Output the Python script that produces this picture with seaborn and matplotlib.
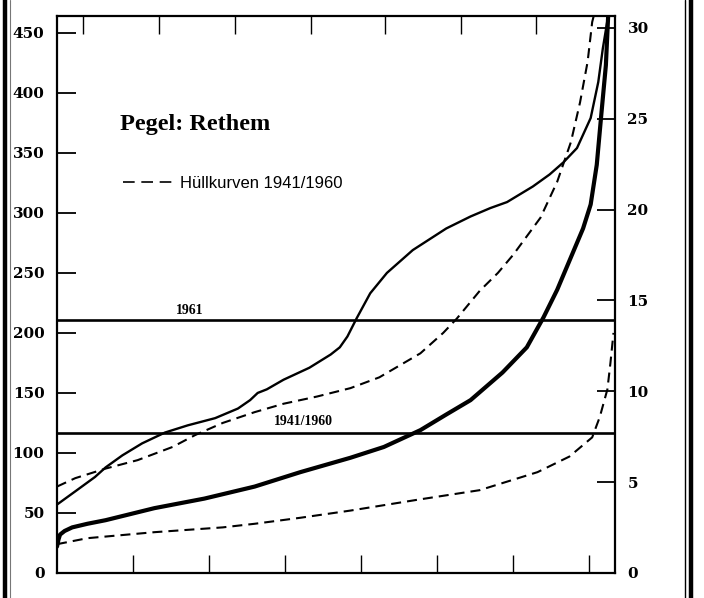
import numpy as np
import pandas as pd
import matplotlib
matplotlib.use("Agg")
import matplotlib.pyplot as plt
from matplotlib.lines import Line2D
import seaborn as sns

# ---------------- data ----------------
curve_1961_days = [0, 12, 25, 32, 43, 56, 71, 86, 104, 119, 127, 132, 138, 149, 166, 180,
                   186, 191, 197, 206, 217, 234, 256, 272, 285, 296, 313, 324, 333, 342,
                   351, 356, 359, 362.5]
curve_1961_vals = [57, 68, 80, 88, 98, 108, 117, 123, 129, 137, 144, 150, 153, 161, 171, 182,
                   188, 197, 212, 233, 250, 269, 287, 297, 304, 309, 322, 332, 342, 354,
                   379, 409, 437, 464]

curve_mean_days = [0, 1, 2, 5, 10, 20, 32, 64, 97, 130, 160, 193, 215, 239, 256, 272, 293,
                   309, 320, 329, 335, 346, 351, 355, 358, 361, 362.5]
curve_mean_vals = [22, 28, 32, 35, 38, 41, 44, 54, 62, 72, 84, 96, 105, 119, 132, 144, 167,
                   188, 213, 236, 254, 287, 307, 340, 382, 423, 464]

upper_env_days = [0, 12, 32, 53, 76, 91, 109, 130, 149, 171, 193, 212, 239, 254, 263,
                  278, 290, 300, 318, 329, 338, 344, 349, 352, 353]
upper_env_vals = [72, 79, 87, 94, 105, 115, 125, 134, 141, 147, 154, 163, 183, 200, 212,
                  235, 250, 265, 296, 326, 359, 392, 426, 459, 464]

lower_env_days = [0, 20, 64, 109, 130, 160, 193, 237, 278, 316, 337, 352, 357, 362, 364, 366]
lower_env_vals = [24, 29, 34, 38, 41, 46, 52, 61, 69, 84, 97, 113, 130, 153, 175, 200]

mean_levels = [211, 117]
mean_labels = ["1961", "1941/1960"]
mean_label_pos = [(87, 219), (162, 126)]

left_ticks = [0, 50, 100, 150, 200, 250, 300, 350, 400, 450]
right_ticks = [0, 5, 10, 15, 20, 25, 30]
bottom_ticks = [50, 100, 150, 200, 250, 300, 350]
top_ticks = [17, 67, 117, 167, 216, 266, 315]

title_text = "Pegel: Rethem"
legend_text = "Hüllkurven 1941/1960"

# ---------------- figure ----------------
sns.set_theme(style="white")
plt.rcParams["font.family"] = ["DejaVu Serif"]
for k in ["text.color", "axes.labelcolor", "xtick.color", "ytick.color", "axes.edgecolor"]:
    plt.rcParams[k] = "black"

fig = plt.figure(figsize=(7.04, 5.98), dpi=100)
ax = fig.add_axes([57 / 704, 25 / 598, 558 / 704, 557 / 598])
ax.set_facecolor("white")

dash = (0, (4.8, 2.9))
common = dict(ax=ax, color="black", estimator=None, sort=False,
              solid_joinstyle="round", solid_capstyle="round")
sns.lineplot(x=curve_1961_days, y=curve_1961_vals, lw=1.7, **common)
sns.lineplot(x=curve_mean_days, y=curve_mean_vals, lw=3.0, **common)
sns.lineplot(x=upper_env_days, y=upper_env_vals, lw=1.5, linestyle=dash, **common)
sns.lineplot(x=lower_env_days, y=lower_env_vals, lw=1.5, linestyle=dash, **common)

for lvl in mean_levels:
    ax.axhline(lvl, color="black", lw=1.9)
for txt, (xx, yy) in zip(mean_labels, mean_label_pos):
    ax.text(xx, yy, txt, ha="center", va="center", fontsize=10, fontweight="bold",
            family=["Liberation Serif", "DejaVu Serif"])

ax.set_xlim(0, 367)
ax.set_ylim(0, 464)
ax.set_xticks(bottom_ticks)
ax.set_xticklabels([])
ax.set_yticks(left_ticks)
ax.set_yticklabels([str(t) for t in left_ticks], fontsize=11, fontweight="bold")
ax.tick_params(axis="y", direction="in", length=14, width=1.3, pad=9, left=True, colors="black")
ax.tick_params(axis="x", direction="in", length=13, width=1.0, bottom=True)
ax.set_xlabel("")
ax.set_ylabel("")
for sp in ax.spines.values():
    sp.set_visible(True)
    sp.set_color("black")
    sp.set_linewidth(1.6)

top = ax.secondary_xaxis("top")
top.set_xticks(top_ticks)
top.set_xticklabels([])
top.tick_params(direction="in", length=13, width=1.0)

ax2 = ax.twinx()
ax2.set_ylim(0, 30.66)
ax2.set_yticks(right_ticks)
ax2.set_yticklabels([str(t) for t in right_ticks], fontsize=11, fontweight="bold")
ax2.tick_params(axis="y", direction="in", length=13, width=1.3, pad=9, right=True, colors="black")
ax2.grid(False)
ax.grid(False)

ax.text(0.113, 0.805, title_text, transform=ax.transAxes, fontsize=17.5, fontweight="bold",
        family=["Liberation Serif", "DejaVu Serif"], va="center", ha="left", color="black")

handle = Line2D([], [], color="black", lw=1.2, linestyle=(0, (7, 4)))
leg = ax.legend([handle], [legend_text], loc="center left", bbox_to_anchor=(0.118, 0.70),
                frameon=False, borderaxespad=0, borderpad=0, handlelength=3.1,
                handletextpad=0.3,
                prop={"family": ["Liberation Sans", "DejaVu Sans"], "size": 12})
for t in leg.get_texts():
    t.set_color("black")

# scanned page border strokes
for xpx, w, c in [(5, 3.2, "black"), (10, 0.8, "#777777"), (685, 1.0, "black"), (691, 3.2, "black")]:
    fig.add_artist(Line2D([xpx / 704, xpx / 704], [0, 1], transform=fig.transFigure,
                          color=c, lw=w))

fig.savefig("out.png", dpi=100, facecolor="white")
